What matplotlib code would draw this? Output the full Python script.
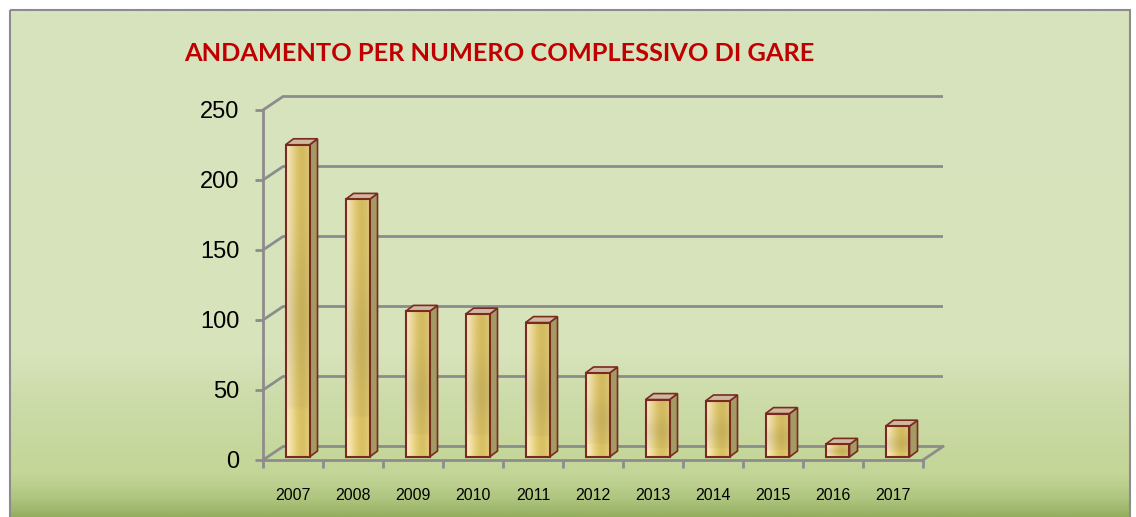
import numpy as np
import matplotlib
matplotlib.use("Agg")
import matplotlib.pyplot as plt
from matplotlib.patches import Polygon, Rectangle
from matplotlib.colors import LinearSegmentedColormap

years = ["2007", "2008", "2009", "2010", "2011", "2012", "2013", "2014", "2015", "2016", "2017"]
gare = [223, 184, 104, 102, 96, 60, 41, 40, 31, 9, 22]
yticks = [0, 50, 100, 150, 200, 250]
title = "ANDAMENTO PER NUMERO COMPLESSIVO DI GARE"

W, H = 1136, 517
fig = plt.figure(figsize=(W / 100, H / 100), dpi=100)
fig.patch.set_facecolor("white")

# ---- background panel with vertical gradient ----
bg = fig.add_axes([0, 0, 1, 1], zorder=0)
bg.axis("off")
stops = [(0.0, "#d8e4bd"), (0.68, "#d7e3bb"), (0.76, "#cddcaa"), (0.92, "#c3d596"),
         (0.965, "#adc47e"), (1.0, "#94ad5f")]
cmap_bg = LinearSegmentedColormap.from_list("bg", stops)
grad = np.linspace(0, 1, 300).reshape(-1, 1)
bg.imshow(grad, cmap=cmap_bg, extent=(10, 1130, H + 2, 10), aspect="auto", zorder=0)
bg.add_patch(Rectangle((10, 10), 1120, H, fill=False, edgecolor="#8c8c8c", lw=1.5, zorder=1))
bg.set_xlim(0, W)
bg.set_ylim(H, 0)

# ---- main axes (front plane) ----
x0_px, x1_px, y0_px, y1_px = 263, 923, 460, 110
ax = fig.add_axes([x0_px / W, 1 - y0_px / H, (x1_px - x0_px) / W, (y0_px - y1_px) / H], zorder=2)
ax.set_facecolor("none")
n = len(years)

px_x = n / (x1_px - x0_px)
px_y = 250 / (y0_px - y1_px)
DX, DY = 20 * px_x, 13.5 * px_y
BX, BY = 4.5 * px_x, 3.0 * px_y
BDX, BDY = 8 * px_x, 6 * px_y
grid_c = "#8c8c8c"
glw = 2.0

for v in yticks:
    ax.plot([-0.5, -0.5 + DX, n - 0.5 + DX], [v, v + DY, v + DY], color=grid_c, lw=glw,
            clip_on=False, zorder=1, solid_capstyle="butt")
ax.plot([n - 0.5, n - 0.5 + DX], [0, DY], color=grid_c, lw=glw, clip_on=False, zorder=1)

edge_c = "#7a2a1e"
cols = ["#f6e6c8", "#efdca6", "#e4cf84", "#d9c26a", "#d3ba5e", "#d6bf68", "#dfcb80"]
cmap_bar = LinearSegmentedColormap.from_list("bar", cols)
hgrad = np.linspace(0, 1, 64)
vv = np.linspace(0, 1, 64)
vmod = 1 - 0.06 * np.exp(-((vv - 0.45) ** 2) / 0.05) + 0.03 * (vv < 0.15)
bar_img = np.clip(cmap_bar(hgrad)[None, :, :3] * vmod[:, None, None], 0, 1)
bar_w = 24 * px_x
for i, val in enumerate(gare):
    xl = i - bar_w / 2 + BX
    xr = i + bar_w / 2 + BX
    b = BY
    t = BY + val
    side = Polygon([(xr, b), (xr, t), (xr + BDX, t + BDY), (xr + BDX, b + BDY)],
                   closed=True, facecolor="#a39a66", edgecolor=edge_c, lw=1.2,
                   clip_on=False, zorder=3)
    ax.add_patch(side)
    top = Polygon([(xl, t), (xr, t), (xr + BDX, t + BDY), (xl + BDX, t + BDY)],
                  closed=True, facecolor="#cfb8a0", edgecolor=edge_c, lw=1.2,
                  clip_on=False, zorder=3)
    ax.add_patch(top)
    im = ax.imshow(bar_img, extent=(xl, xr, b, t), aspect="auto", origin="lower",
                   zorder=4, interpolation="bilinear")
    rect = Rectangle((xl, b), xr - xl, t - b, facecolor="none", edgecolor=edge_c,
                     lw=1.5, zorder=5, clip_on=False)
    ax.add_patch(rect)
    im.set_clip_path(rect)

ax.set_xlim(-0.5, n - 0.5)
ax.set_ylim(0, 250)

for s in ["top", "right"]:
    ax.spines[s].set_visible(False)
for s in ["left", "bottom"]:
    ax.spines[s].set_color(grid_c)
    ax.spines[s].set_linewidth(glw)
    ax.spines[s].set_zorder(6)

ax.set_yticks(yticks)
ax.set_yticklabels([str(v) for v in yticks], fontsize=17, family=["Liberation Sans", "DejaVu Sans"])
ax.tick_params(axis="y", length=6, width=glw, color=grid_c, pad=11)

ax.set_xticks(np.arange(-0.5, n, 1.0))
ax.set_xticklabels([])
ax.tick_params(axis="x", which="major", length=6, width=glw, color=grid_c)
ax.set_xticks(np.arange(n), minor=True)
ax.set_xticklabels(years, minor=True, fontsize=11.5, family=["Liberation Sans", "DejaVu Sans"])
ax.tick_params(axis="x", which="minor", length=0, pad=20)

fig.text(499 / W, 1 - 61 / H, title, ha="center", va="baseline", color="#c00000",
         fontsize=18.3, fontweight="bold", family=["Lato", "DejaVu Sans"], zorder=5)

fig.savefig("out.png", dpi=100, facecolor="white")
